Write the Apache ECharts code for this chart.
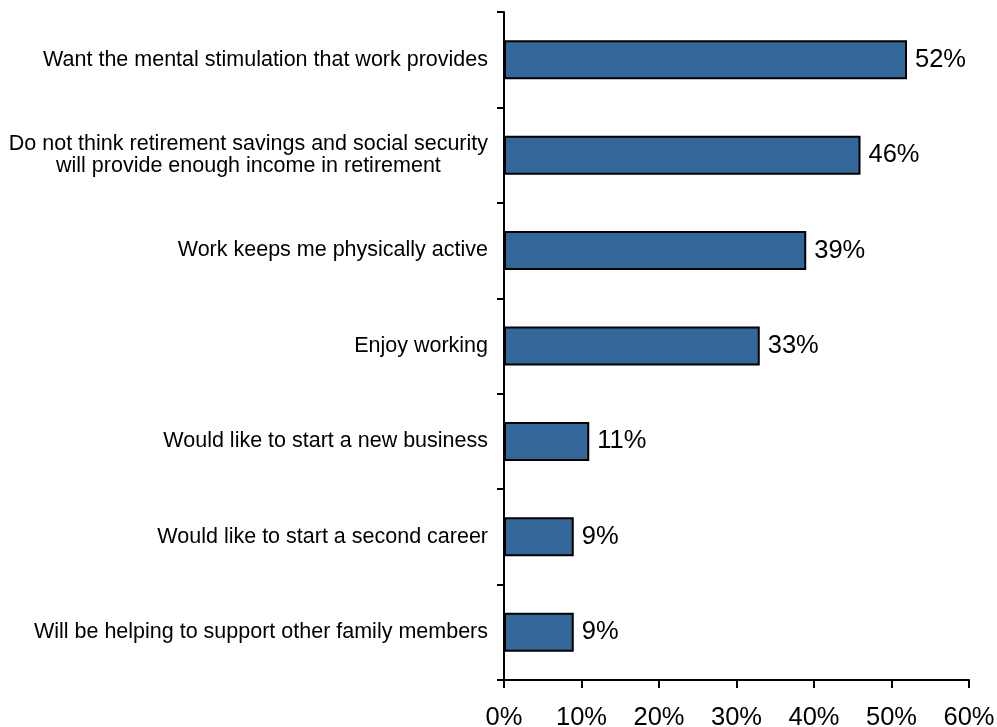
<!DOCTYPE html>
<html>
<head>
<meta charset="utf-8">
<title>Reasons for working in retirement</title>
<script src="https://cdn.jsdelivr.net/npm/echarts@6/dist/echarts.min.js"></script>
<style>
  html, body { margin: 0; padding: 0; background: #fff; }
  #chart { width: 997px; height: 727px; }
</style>
</head>
<body>
<div id="chart"></div>
<script>
// Reasons given, listed top to bottom
const reasons = [
  'Want the mental stimulation that work provides',
  'Do not think retirement savings and social security\nwill provide enough income in retirement',
  'Work keeps me physically active',
  'Enjoy working',
  'Would like to start a new business',
  'Would like to start a second career',
  'Will be helping to support other family members'
];

// Share of respondents (%)
const shares = [52, 46, 39, 33, 11, 9, 9];

// Horizontal axis ticks (%)
const axisMin = 0;
const axisMax = 60;
const axisStep = 10;

const font = '"Liberation Sans", Arial, Helvetica, sans-serif';

const chart = echarts.init(document.getElementById('chart'), null, { renderer: 'canvas' });

chart.setOption({
  animation: false,
  backgroundColor: '#ffffff',
  grid: {
    left: 504, right: 28, top: 12, bottom: 47,
    containLabel: false,
    outerBoundsMode: 'none'
  },
  xAxis: {
    type: 'value',
    min: axisMin,
    max: axisMax,
    interval: axisStep,
    axisLine: { show: true, lineStyle: { color: '#000', width: 2 } },
    axisTick: { show: true, length: 8, lineStyle: { color: '#000', width: 2 } },
    splitLine: { show: false },
    axisLabel: {
      formatter: '{value}%',
      color: '#000',
      fontFamily: font,
      fontSize: 25.5,
      margin: 25
    }
  },
  yAxis: {
    type: 'category',
    inverse: true,
    data: reasons,
    axisLine: { show: true, lineStyle: { color: '#000', width: 2 } },
    axisTick: { show: true, length: 7, lineStyle: { color: '#000', width: 2 } },
    axisLabel: {
      color: '#000',
      fontFamily: font,
      fontSize: 21.5,
      lineHeight: 22,
      margin: 16,
      formatter: function (v) {
        return v.split('\n').map(function (line) { return '{c|' + line + '}'; }).join('\n');
      },
      rich: {
        c: { align: 'center', fontFamily: font, fontSize: 21.5, lineHeight: 22, color: '#000' }
      }
    }
  },
  series: [{
    type: 'bar',
    data: shares,
    barWidth: 39,
    itemStyle: { color: '#336699', borderColor: '#000', borderWidth: 2 },
    label: {
      show: true,
      position: 'right',
      distance: 8,
      formatter: '{c}%',
      color: '#000',
      fontFamily: font,
      fontSize: 25.5
    }
  }]
});
</script>
</body>
</html>
